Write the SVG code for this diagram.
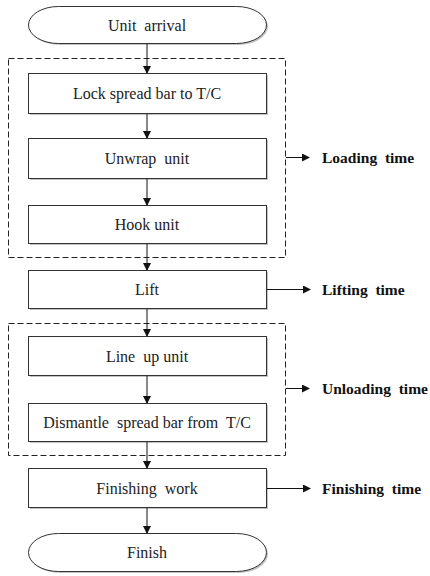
<svg xmlns="http://www.w3.org/2000/svg" width="430" height="576" viewBox="0 0 430 576">
<style>
.box{fill:#fff;stroke:#333;stroke-width:1}
.sh{fill:#999;opacity:0.6}
.t{font-family:"Liberation Serif","Times New Roman","DejaVu Serif",serif;font-size:16px;fill:#222;text-anchor:middle;white-space:pre}
.b{font-family:"Liberation Serif","Times New Roman","DejaVu Serif",serif;font-size:15.5px;font-weight:bold;fill:#111;white-space:pre}
.ln{stroke:#111;stroke-width:1;fill:none;marker-end:url(#ah)}
.dash{fill:none;stroke:#222;stroke-width:1;stroke-dasharray:6,3}
</style>
<defs>
<marker id="ah" markerWidth="8" markerHeight="8" refX="7" refY="4" orient="auto" markerUnits="userSpaceOnUse">
<path d="M0,0 L8,4 L0,8 z" fill="#111"/>
</marker>
</defs>
<rect width="430" height="576" fill="#fff"/>
<g id="group-loading"><rect class="dash" x="8.5" y="58.5" width="277" height="199"/></g>
<g id="group-unloading"><rect class="dash" x="8.5" y="323.5" width="277" height="132"/></g>
<g id="n-arrival"><rect class="sh" x="30" y="8" width="238" height="37" rx="30" ry="18.5"/><rect class="box" x="28.5" y="6.5" width="238" height="37" rx="30" ry="18.5"/><text class="t" x="147" y="30.5">Unit  arrival</text></g>
<g id="n-lock"><rect class="sh" x="30" y="75" width="238" height="40"/><rect class="box" x="28.5" y="73.5" width="238" height="40"/><text class="t" x="147" y="99">Lock spread bar to T/C</text></g>
<g id="n-unwrap"><rect class="sh" x="30" y="140" width="238" height="40"/><rect class="box" x="28.5" y="138.5" width="238" height="40"/><text class="t" x="147" y="164">Unwrap  unit</text></g>
<g id="n-hook"><rect class="sh" x="30" y="207" width="238" height="38"/><rect class="box" x="28.5" y="205.5" width="238" height="38"/><text class="t" x="147" y="230">Hook unit</text></g>
<g id="n-lift"><rect class="sh" x="30" y="272" width="238" height="38"/><rect class="box" x="28.5" y="270.5" width="238" height="38"/><text class="t" x="147" y="295">Lift</text></g>
<g id="n-lineup"><rect class="sh" x="30" y="338" width="238" height="39"/><rect class="box" x="28.5" y="336.5" width="238" height="39"/><text class="t" x="147" y="361.5">Line  up unit</text></g>
<g id="n-dismantle"><rect class="sh" x="30" y="405" width="238" height="38"/><rect class="box" x="28.5" y="403.5" width="238" height="38"/><text class="t" x="147" y="428">Dismantle  spread bar from  T/C</text></g>
<g id="n-finishing"><rect class="sh" x="30" y="470" width="238" height="39"/><rect class="box" x="28.5" y="468.5" width="238" height="39"/><text class="t" x="147" y="493.5">Finishing  work</text></g>
<g id="n-finish"><rect class="sh" x="30" y="535" width="238" height="38" rx="30" ry="19"/><rect class="box" x="28.5" y="533.5" width="238" height="38" rx="30" ry="19"/><text class="t" x="147" y="558">Finish</text></g>
<g id="n-labels">
<text class="b" x="322" y="162.5">Loading  time</text>
<text class="b" x="322" y="294.5">Lifting  time</text>
<text class="b" x="322" y="393.5">Unloading  time</text>
<text class="b" x="322" y="493.5">Finishing  time</text>
</g>
<g id="connectors">
<line class="ln" x1="147" y1="44" x2="147" y2="73"/>
<line class="ln" x1="147" y1="114" x2="147" y2="138"/>
<line class="ln" x1="147" y1="179" x2="147" y2="205"/>
<line class="ln" x1="147" y1="244" x2="147" y2="270"/>
<line class="ln" x1="147" y1="309" x2="147" y2="336"/>
<line class="ln" x1="147" y1="376" x2="147" y2="403"/>
<line class="ln" x1="147" y1="442" x2="147" y2="468"/>
<line class="ln" x1="147" y1="508" x2="147" y2="533"/>
<line class="ln" x1="286" y1="157.5" x2="309" y2="157.5"/>
<line class="ln" x1="267" y1="289.5" x2="310" y2="289.5"/>
<line class="ln" x1="286" y1="388.5" x2="309" y2="388.5"/>
<line class="ln" x1="267" y1="488.5" x2="310" y2="488.5"/>
</g>
</svg>
